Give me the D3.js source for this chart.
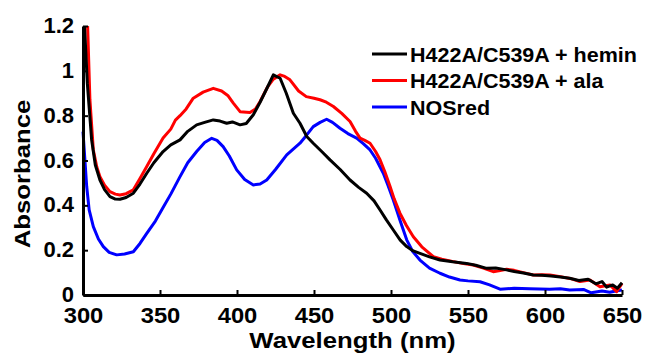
<!DOCTYPE html>
<html>
<head>
<meta charset="utf-8">
<script src="https://cdn.jsdelivr.net/npm/d3@7"></script>
<style>
  body { margin: 0; background: #fff; }
  svg { display: block; font-family: "Liberation Sans", Arial, Helvetica, sans-serif; font-weight: bold; }
</style>
</head>
<body>
<svg id="chart" width="647" height="354"></svg>
<script>
// spectra: [wavelength nm, absorbance]
const heminSpectrum = [
  [301.0, 1.2], [302.8, 0.945], [305.6, 0.692], [308, 0.58], [311, 0.513], [314, 0.47],
  [317.5, 0.439], [321, 0.428], [324, 0.427], [328, 0.435], [332.7, 0.454], [337, 0.495],
  [341.4, 0.543], [346, 0.59], [352, 0.64], [357, 0.67], [363, 0.692], [368, 0.73],
  [373.8, 0.759], [379, 0.77], [384.6, 0.781], [389, 0.776], [393.3, 0.766], [397, 0.772],
  [402, 0.759], [406, 0.765], [410.6, 0.804], [415, 0.86], [420, 0.93], [423.6, 0.982],
  [428, 0.967], [432, 0.9], [436.6, 0.811], [440.9, 0.766], [445.3, 0.707], [449.5, 0.677],
  [455, 0.64], [460.4, 0.603], [467, 0.56], [473.4, 0.513], [479, 0.48], [484.2, 0.454],
  [489, 0.42], [492.9, 0.379], [497, 0.335], [501.5, 0.29], [506, 0.245], [510.2, 0.216],
  [514, 0.198], [518.8, 0.186], [525, 0.17], [531.8, 0.156], [540, 0.148], [549.1, 0.141],
  [555, 0.133], [562.1, 0.119], [568, 0.12], [575, 0.112], [580, 0.105], [586, 0.098],
  [592.4, 0.089], [598, 0.088], [604, 0.085], [610, 0.08], [616, 0.075], [622, 0.065],
  [628, 0.07], [633, 0.05], [637, 0.06], [640, 0.035], [644, 0.045], [647, 0.03], [650, 0.055]
];
const alaSpectrum = [
  [303.0, 1.2], [304.5, 0.87], [306.7, 0.647], [309, 0.57], [311, 0.528], [314, 0.49],
  [317.5, 0.461], [321, 0.45], [324, 0.446], [328, 0.452], [332.7, 0.469], [337, 0.52],
  [341.4, 0.573], [346, 0.63], [352, 0.7], [357, 0.74], [360, 0.78], [363, 0.8],
  [367, 0.83], [371.6, 0.878], [378, 0.905], [384.6, 0.922], [390, 0.91], [394, 0.89],
  [397.6, 0.856], [402, 0.818], [408.4, 0.814], [412, 0.83], [415, 0.863], [420, 0.93],
  [423.6, 0.963], [428, 0.982], [431, 0.975], [434.4, 0.96], [440, 0.91], [445, 0.885],
  [450, 0.878], [453.9, 0.871], [458, 0.86], [462.6, 0.841], [468, 0.81], [473.4, 0.774],
  [477, 0.73], [479.9, 0.7], [483, 0.69], [486.4, 0.677], [490, 0.64], [492.9, 0.603],
  [496, 0.55], [499.4, 0.484], [502, 0.43], [505.8, 0.365], [510, 0.31], [514.5, 0.26],
  [520, 0.215], [527.5, 0.171], [533, 0.16], [540.5, 0.149], [547, 0.14], [553.4, 0.134],
  [560, 0.12], [566.4, 0.104], [570, 0.108], [575.1, 0.115], [580, 0.11], [586, 0.1],
  [592.4, 0.089], [598, 0.09], [603.2, 0.089], [610, 0.082], [616.2, 0.074], [622.7, 0.06],
  [629.2, 0.067], [635.7, 0.037], [642.2, 0.045], [646.5, 0.015], [650, 0.052]
];
const nosSpectrum = [
  [300, 0.729], [302.4, 0.484], [304, 0.38], [306.7, 0.305], [310, 0.25], [313.2, 0.216],
  [317, 0.19], [321.9, 0.179], [327, 0.183], [332.7, 0.193], [337, 0.23], [341.4, 0.275],
  [347, 0.33], [352, 0.39], [357, 0.45], [363, 0.528], [368, 0.59], [373.8, 0.64],
  [379, 0.68], [383.6, 0.699], [387, 0.69], [391, 0.662], [395, 0.62], [399.8, 0.558],
  [405, 0.515], [410.6, 0.491], [415, 0.495], [419.3, 0.513], [425, 0.56], [432.3, 0.625],
  [440.9, 0.677], [445.3, 0.714], [449.5, 0.751], [454, 0.77], [458.2, 0.784], [462, 0.77],
  [466.9, 0.744], [472, 0.72], [477.7, 0.7], [482, 0.675], [486.4, 0.647], [490, 0.61],
  [495, 0.543], [498, 0.49], [501.5, 0.424], [506, 0.33], [510.2, 0.246], [514, 0.195],
  [518.8, 0.156], [525, 0.12], [531.8, 0.097], [538, 0.08], [544.8, 0.067], [550, 0.063],
  [557.8, 0.059], [564, 0.045], [570.8, 0.026], [580, 0.03], [590, 0.028], [603, 0.026],
  [610, 0.028], [616, 0.022], [625, 0.025], [630, 0.01], [637, 0.018], [642, 0.012],
  [646, 0.018], [650, 0.022]
];

const seriesNames = ['H422A/C539A + hemin', 'H422A/C539A + ala', 'NOSred'];
const seriesColors = ['#000000', '#ff0000', '#0000ff'];
const xTicks = [300, 350, 400, 450, 500, 550, 600, 650];
const yTicks = [0, 0.2, 0.4, 0.6, 0.8, 1, 1.2];

const series = [heminSpectrum, alaSpectrum, nosSpectrum].map((pts, i) => ({
  name: seriesNames[i],
  color: seriesColors[i],
  values: pts.map(p => ({ nm: p[0], abs: p[1] }))
}));

const WIDTH = 647, HEIGHT = 354;
const margin = { top: 26, right: 25, bottom: 59, left: 83 },
  width = WIDTH - margin.left - margin.right,
  height = HEIGHT - margin.top - margin.bottom;
const stretch = 1.17; // the axis titles in the picture are drawn wide

const x = d3.scaleLinear().domain([300, 650]).range([0, width]);
const y = d3.scaleLinear().domain([0, 1.2]).range([height, 0]);

const svg = d3.select('#chart')
  .append('g')
  .attr('transform', `translate(${margin.left},${margin.top})`);

svg.append('defs').append('clipPath')
  .attr('id', 'plot-clip')
  .append('rect')
  .attr('x', -2).attr('y', -1)
  .attr('width', width + 6).attr('height', height + 2);

const line = d3.line()
  .x(d => x(d.nm))
  .y(d => y(d.abs));

svg.append('g')
  .attr('clip-path', 'url(#plot-clip)')
  .selectAll('.spectrum')
  .data(series.slice().reverse())
  .enter().append('path')
  .attr('class', 'spectrum')
  .attr('fill', 'none')
  .attr('stroke', d => d.color)
  .attr('stroke-width', 3)
  .attr('stroke-linejoin', 'round')
  .attr('d', d => line(d.values));

// axes, ticks pointing inward
const xAxis = svg.append('g')
  .attr('transform', `translate(0,${height})`)
  .call(d3.axisBottom(x).tickValues(xTicks).tickSizeInner(-5).tickSizeOuter(0).tickFormat(d3.format('d')));
xAxis.selectAll('text')
  .attr('y', 0).attr('dy', null)
  .attr('transform', 'translate(0,28) scale(1.08,1)');

const yAxis = svg.append('g')
  .call(d3.axisLeft(y).tickValues(yTicks).tickSizeInner(-5).tickSizeOuter(0).tickFormat(d => String(+d.toFixed(1))));
yAxis.selectAll('text')
  .attr('x', 0).attr('dy', null)
  .attr('transform', 'translate(-9,6.5)');

svg.selectAll('.domain').attr('stroke', '#000').attr('stroke-width', 3);
svg.selectAll('.tick line').attr('stroke', '#000').attr('stroke-width', 2);
svg.selectAll('.tick text')
  .attr('fill', '#000')
  .style('font-size', '22px')
  .style('font-family', '"Liberation Sans", Arial, sans-serif')
  .style('font-weight', 'bold');

// axis titles
svg.append('text')
  .attr('text-anchor', 'middle')
  .attr('transform', `translate(${width / 2},${height + 53}) scale(${stretch},1)`)
  .style('font-size', '22px')
  .text('Wavelength (nm)');

svg.append('text')
  .attr('text-anchor', 'middle')
  .attr('transform', `translate(${-53},${148}) rotate(-90) scale(${stretch},1)`)
  .style('font-size', '22px')
  .text('Absorbance');

// legend
const legend = svg.append('g')
  .attr('transform', `translate(${372 - margin.left},${54 - margin.top})`);
const legendRow = legend.selectAll('.legend-row')
  .data(series)
  .enter().append('g')
  .attr('class', 'legend-row')
  .attr('transform', (d, i) => `translate(0,${i * 26.5})`);
legendRow.append('line')
  .attr('x1', 0).attr('x2', 35)
  .attr('stroke', d => d.color)
  .attr('stroke-width', 3);
legendRow.append('text')
  .attr('transform', 'translate(38,7.5) scale(1.05,1)')
  .style('font-size', '20.5px')
  .text(d => d.name);
</script>
</body>
</html>
